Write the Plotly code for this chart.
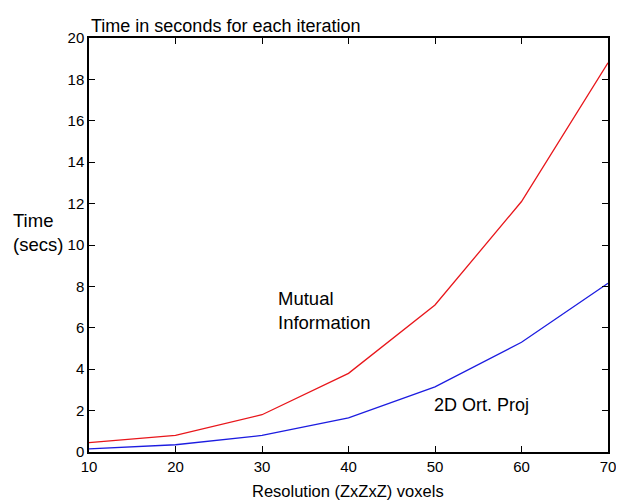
import plotly.graph_objects as go

resolution = [10, 20, 30, 40, 50, 60, 70]
mutual_info = [0.45, 0.8, 1.8, 3.8, 7.1, 12.1, 18.8]
ortho_proj = [0.15, 0.35, 0.8, 1.65, 3.15, 5.3, 8.15]
x_ticks = [10, 20, 30, 40, 50, 60, 70]
y_ticks = [0, 2, 4, 6, 8, 10, 12, 14, 16, 18, 20]

font = "Liberation Sans, Arial, sans-serif"

fig = go.Figure()
fig.add_trace(go.Scatter(x=resolution, y=mutual_info, mode="lines",
                         line=dict(color="#e8161b", width=1.3), name="Mutual Information"))
fig.add_trace(go.Scatter(x=resolution, y=ortho_proj, mode="lines",
                         line=dict(color="#1c1ce0", width=1.3), name="2D Ort. Proj"))

axis_common = dict(showgrid=False, zeroline=False, showline=True, linecolor="black",
                   linewidth=1.5, mirror="ticks", ticks="inside", ticklen=6,
                   tickcolor="black", tickfont=dict(family=font, size=15, color="black"))

fig.update_layout(
    width=616, height=493,
    margin=dict(l=81, r=8, t=30, b=49),
    paper_bgcolor="white", plot_bgcolor="white",
    showlegend=False,
    xaxis=dict(range=[10, 70], tickvals=x_ticks, **axis_common),
    yaxis=dict(range=[0, 20], tickvals=y_ticks, **axis_common),
    annotations=[
        dict(text="Time in seconds for each iteration", xref="paper", yref="paper",
             x=0, y=1, xanchor="left", yanchor="bottom", yshift=0, showarrow=False,
             font=dict(family=font, size=18, color="black")),
        dict(text="Time<br>(secs)", xref="paper", yref="paper", x=-0.150, y=0.529,
             xanchor="left", yanchor="middle", align="left", showarrow=False,
             font=dict(family=font, size=18.5, color="black")),
        dict(text="Resolution (ZxZxZ) voxels", xref="paper", yref="paper",
             x=0.499, y=0, yshift=-28, xanchor="center", yanchor="top", showarrow=False,
             font=dict(family=font, size=16.5, color="black")),
        dict(text="Mutual<br>Information", xref="x", yref="y", x=31.6, y=6.86,
             xanchor="left", yanchor="middle", align="left", showarrow=False,
             font=dict(family=font, size=18.5, color="black")),
        dict(text="2D Ort. Proj", xref="x", yref="y", x=49.6, y=2.27,
             xanchor="left", yanchor="middle", align="left", showarrow=False,
             font=dict(family=font, size=18, color="black")),
    ],
)

fig.write_html("out.html")
